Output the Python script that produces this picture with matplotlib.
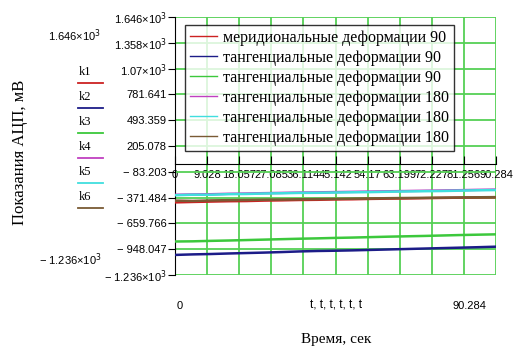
import numpy as np
import matplotlib.pyplot as plt
from matplotlib.ticker import FixedLocator, FixedFormatter

# время, сек
t = [0, 5, 10, 15, 20, 25, 30, 35, 40, 45, 50, 55, 60, 65, 70, 75, 80, 85, 90.284]

# показания АЦП, мВ (по графику)
k1 = [-425, -420, -416, -412, -410, -405, -402, -398, -396, -392, -390, -386, -383, -381, -378, -375, -372, -370, -368]
k2 = [-1012, -1006, -1002, -996, -991, -986, -980, -973, -968, -965, -961, -956, -951, -946, -941, -936, -931, -926, -920]
k3 = [-862, -860, -855, -851, -846, -841, -836, -831, -827, -822, -818, -813, -808, -804, -800, -795, -790, -786, -782]
k4 = [-340, -336, -334, -329, -326, -322, -319, -315, -313, -310, -307, -304, -301, -298, -295, -292, -289, -285, -282]
k5 = [-345, -339, -340, -333, -331, -326, -323, -319, -318, -315, -312, -310, -306, -303, -300, -298, -294, -290, -287]
k6 = [-405, -409, -403, -400, -398, -395, -393, -390, -388, -386, -383, -381, -378, -376, -374, -372, -370, -368, -366]

names = ['меридиональные деформации 90', 'тангенциальные деформации 90', 'тангенциальные деформации 90',
         'тангенциальные деформации 180', 'тангенциальные деформации 180', 'тангенциальные деформации 180']
colors = ['#cc2222', '#1c1c88', '#3cc83c', '#c040c0', '#40dede', '#7a5a34']
keys = ['k1', 'k2', 'k3', 'k4', 'k5', 'k6']

x_ticks = [0, 9.028, 18.057, 27.085, 36.114, 45.142, 54.17, 63.199, 72.227, 81.256, 90.284]
x_labels = ['0', '9.028', '18.057', '27.085', '36.114', '45.142', '54.17', '63.199', '72.227', '81.256', '90.284']
y_ticks = [1646.484, 1358.203, 1069.922, 781.641, 493.359, 205.078, -83.203, -371.484, -659.766, -948.047, -1236.328]
y_labels = ['1.646×10$^3$', '1.358×10$^3$', '1.07×10$^3$', '781.641', '493.359', '205.078',
            '− 83.203', '− 371.484', '− 659.766', '− 948.047', '− 1.236×10$^3$']

W, H = 523, 346
fig = plt.figure(figsize=(W / 100, H / 100), dpi=100)
fig.patch.set_facecolor('white')

def fx(x):
    return x / W

def fy(y):
    return 1 - y / H

ax = fig.add_axes([fx(175), fy(275), (496 - 175) / W, (275 - 17) / H])

series = [k1, k2, k3, k4, k5, k6]
for s, c, n in zip(series, colors, names):
    ax.plot(t, s, color=c, lw=1.8, label=n, zorder=3)

ax.set_xlim(0, 90.284)
ax.set_ylim(-1236.328, 1646.484)

ax.yaxis.set_major_locator(FixedLocator(y_ticks))
ax.yaxis.set_major_formatter(FixedFormatter(y_labels))
ax.xaxis.set_major_locator(FixedLocator(x_ticks))
ax.xaxis.set_major_formatter(FixedFormatter(x_labels))

ax.grid(True, color='#55d055', lw=1.3, zorder=0)
ax.set_axisbelow(True)

for side in ['top', 'right']:
    ax.spines[side].set_visible(False)
ax.spines['bottom'].set_position(('data', 0))
ax.spines['bottom'].set_color('black')
ax.spines['left'].set_color('black')

ax.tick_params(axis='x', direction='in', length=6, pad=4, labelsize=8,
               labelfontfamily='Liberation Sans')
ax.tick_params(axis='y', direction='out', length=5, pad=1, labelsize=8,
               labelfontfamily='Liberation Sans')

leg = ax.legend(loc='upper left', bbox_to_anchor=((185 - 175) / 321, (275 - 25) / 258),
                prop={'family': 'Liberation Serif', 'size': 11.5}, frameon=True, fancybox=False,
                handlelength=1.7, handletextpad=0.4, borderpad=0.3, labelspacing=0.25,
                borderaxespad=0)
leg.get_frame().set_edgecolor('black')
leg.get_frame().set_linewidth(1.0)
for h in leg.get_lines():
    h.set_linewidth(1.0)

# подписи слева, как в Mathcad
fig.text(fx(75), fy(36), '1.646×10$^3$', fontsize=8, family='Liberation Sans', ha='center', va='center')
fig.text(fx(70), fy(260), '− 1.236×10$^3$', fontsize=8, family='Liberation Sans', ha='center', va='center')
k_y = [72, 97, 122, 147, 172, 197]
for k, c, yy in zip(keys, colors, k_y):
    fig.text(fx(79), fy(yy), k, fontsize=9, family='Liberation Serif', ha='left', va='center')
    fig.add_artist(plt.Line2D([fx(78), fx(103)], [fy(yy + 10.5), fy(yy + 10.5)], color=c, lw=1.3))

fig.text(fx(20), fy(152), 'Показания АЦП, мВ', rotation=90, fontsize=12, family='Liberation Serif',
         ha='center', va='center')
fig.text(fx(180), fy(306), '0', fontsize=8, family='Liberation Sans', ha='center', va='center')
fig.text(fx(336), fy(306), 't, t, t, t, t, t', fontsize=8.5, family='Liberation Sans', ha='center', va='center')
fig.text(fx(469), fy(306), '90.284', fontsize=8, family='Liberation Sans', ha='center', va='center')
fig.text(fx(336), fy(340), 'Время, сек', fontsize=11, family='Liberation Serif', ha='center', va='center')

fig.savefig('out.png', dpi=100)
